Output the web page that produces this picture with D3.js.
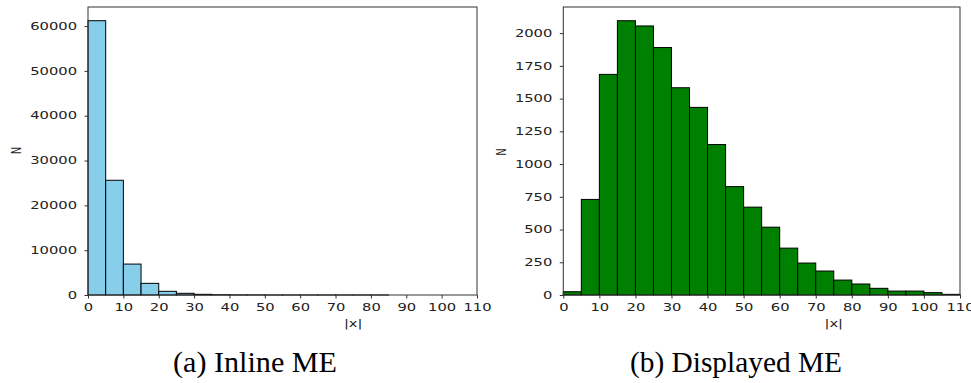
<!DOCTYPE html>
<html lang="en">
<head>
<meta charset="UTF-8">
<title>Histogram of |x| - Inline ME / Displayed ME</title>
<script src="https://d3js.org/d3.v7.min.js"></script>
<style>
  body { margin: 0; background: #fff; }
  .axis text { font-family: "DejaVu Sans", sans-serif; font-size: 10px; fill: #222; }
  .axis path, .axis line { stroke: #333; }
  .label { font-family: "DejaVu Sans", sans-serif; font-size: 10px; fill: #222; }
</style>
</head>
<body>
<div id="chart"></div>
<script>
// bin edges of both histograms (width 5)
const binEdges = [0, 5, 10, 15, 20, 25, 30, 35, 40, 45, 50, 55, 60, 65, 70, 75, 80, 85, 90, 95, 100, 105, 110];

// counts per bin
const inlineCounts = [61200, 25600, 6900, 2600, 820, 380, 150, 60, 30, 15, 8, 5, 3, 2, 1, 1, 1, 0, 0, 0, 0, 0];
const displayedCounts = [25, 730, 1685, 2095, 2055, 1890, 1583, 1433, 1149, 828, 671, 518, 358, 244, 183, 114, 84, 51, 30, 30, 18, 5];

const xTicks = [0, 10, 20, 30, 40, 50, 60, 70, 80, 90, 100, 110];
const inlineYTicks = [0, 10000, 20000, 30000, 40000, 50000, 60000];
const displayedYTicks = [0, 250, 500, 750, 1000, 1250, 1500, 1750, 2000];

const captions = ["(a) Inline ME", "(b) Displayed ME"];

const W = 971, H = 383;
const stretch = 1.47; // the tick text in the picture is wider than it is tall

const svg = d3.select("#chart").append("svg")
    .attr("width", W)
    .attr("height", H);

svg.append("rect").attr("width", W).attr("height", H).attr("fill", "#fff");

const panels = [
  { left: 88, right: 477, top: 7, bottom: 295, counts: inlineCounts, yTicks: inlineYTicks,
    fill: "#87ceeb", nX: 16, nY: 150.5, caption: captions[0], capX: 255, capW: 164 },
  { left: 563.3, right: 960, top: 7, bottom: 295, counts: displayedCounts, yTicks: displayedYTicks,
    fill: "#008000", nX: 500.5, nY: 152, caption: captions[1], capX: 736, capW: 212 }
];

function widen(sel) {
  sel.each(function() {
    const len = this.getComputedTextLength();
    d3.select(this)
      .attr("textLength", len * stretch)
      .attr("lengthAdjust", "spacingAndGlyphs");
  });
}

panels.forEach(p => {
  const x = d3.scaleLinear().domain([0, 110]).range([p.left, p.right]);
  const y = d3.scaleLinear().domain([0, d3.max(p.counts) * 1.05]).range([p.bottom, p.top]);

  const bins = p.counts.map((c, i) => ({ x0: binEdges[i], x1: binEdges[i + 1], n: c }));

  // bars
  svg.append("g")
    .selectAll("rect")
    .data(bins)
    .enter().append("rect")
    .attr("x", d => x(d.x0))
    .attr("y", d => y(d.n))
    .attr("width", d => x(d.x1) - x(d.x0))
    .attr("height", d => y(0) - y(d.n))
    .attr("fill", p.fill)
    .attr("stroke", "#000")
    .attr("stroke-width", 1);

  // frame
  svg.append("rect")
    .attr("x", p.left)
    .attr("y", p.top)
    .attr("width", p.right - p.left)
    .attr("height", p.bottom - p.top)
    .attr("fill", "none")
    .attr("stroke", "#333")
    .attr("stroke-width", 1);

  // x axis
  const gx = svg.append("g")
    .attr("class", "axis")
    .attr("transform", `translate(0,${p.bottom})`)
    .call(d3.axisBottom(x).tickValues(xTicks).tickSize(3.5).tickSizeOuter(0).tickPadding(5.5));
  gx.select(".domain").remove();
  widen(gx.selectAll("text"));

  // y axis
  const gy = svg.append("g")
    .attr("class", "axis")
    .attr("transform", `translate(${p.left},0)`)
    .call(d3.axisLeft(y).tickValues(p.yTicks).tickFormat(d3.format("d")).tickSize(3.5).tickSizeOuter(0).tickPadding(7.5));
  gy.select(".domain").remove();
  widen(gy.selectAll("text"));

  // axis labels
  const xl = svg.append("text")
    .attr("class", "label")
    .attr("x", x(75))
    .attr("y", 327)
    .attr("text-anchor", "middle")
    .text("|x|");
  widen(xl);

  svg.append("text")
    .attr("class", "label")
    .attr("text-anchor", "middle")
    .attr("dominant-baseline", "central")
    .attr("transform", `translate(${p.nX},${p.nY}) scale(${stretch},1) rotate(-90)`)
    .text("N");

  // caption
  svg.append("text")
    .attr("x", p.capX)
    .attr("y", 372)
    .attr("text-anchor", "middle")
    .attr("font-family", "Liberation Serif")
    .attr("font-size", 29)
    .attr("fill", "#000")
    .attr("textLength", p.capW)
    .attr("lengthAdjust", "spacingAndGlyphs")
    .text(p.caption);
});
</script>
</body>
</html>
